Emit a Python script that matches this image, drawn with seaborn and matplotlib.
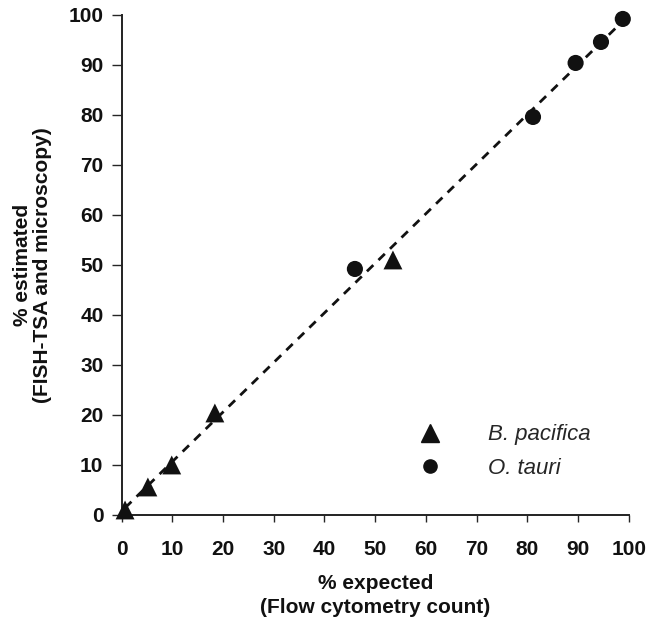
import pandas as pd
import seaborn as sns
import matplotlib.pyplot as plt
from matplotlib.lines import Line2D

# values
bp_expected = [0.7, 5.2, 9.9, 18.4, 53.5]
bp_estimated = [1.0, 5.6, 10.0, 20.4, 51.0]
ot_expected = [46.0, 81.1, 89.5, 94.5, 98.8]
ot_estimated = [49.2, 79.6, 90.4, 94.6, 99.2]
ticks = list(range(0, 101, 10))

df = pd.DataFrame({
    "expected": bp_expected + ot_expected,
    "estimated": bp_estimated + ot_estimated,
    "species": ["B. pacifica"] * len(bp_expected) + ["O. tauri"] * len(ot_expected),
})

sns.set_style("ticks")
plt.rcParams['font.family'] = ['Liberation Sans', 'DejaVu Sans']

fig = plt.figure(figsize=(6.48, 6.23), dpi=100)
ax = fig.add_axes([0.1875, 0.1734, 0.783, 0.8026])

# dashed trend line through all points
sns.regplot(data=df, x="expected", y="estimated", ax=ax, scatter=False, ci=None,
            truncate=True, line_kws=dict(color="#111111", ls=(0, (3.2, 2.6)), lw=2.0))

sns.scatterplot(data=df[df.species == "B. pacifica"], x="expected", y="estimated",
                marker="^", s=185, color="#111111", edgecolor="none",
                ax=ax, zorder=3, legend=False)
sns.scatterplot(data=df[df.species == "O. tauri"], x="expected", y="estimated",
                marker="o", s=135, color="#111111", edgecolor="none",
                ax=ax, zorder=3, legend=False)
for coll in ax.collections:
    coll.set_clip_on(False)

ax.set_xlim(0, 100)
ax.set_ylim(0, 100)
ax.set_xticks(ticks)
ax.set_yticks(ticks)
ax.tick_params(axis="y", direction="out", length=7, width=1, labelsize=15, pad=6)
ax.tick_params(axis="x", direction="out", length=5, width=1, labelsize=15, pad=13)
for lab in ax.get_xticklabels() + ax.get_yticklabels():
    lab.set_fontweight("bold")
    lab.set_color("#111111")
sns.despine(ax=ax)
for sp in ax.spines.values():
    sp.set_linewidth(1.4)
    sp.set_color("#222222")

ax.set_xlabel("% expected\n(Flow cytometry count)", fontsize=15, fontweight="bold",
              labelpad=11, linespacing=1.35, color="#111111")
ax.set_ylabel("% estimated\n(FISH-TSA and microscopy)", fontsize=15, fontweight="bold",
              labelpad=12, linespacing=1.05, color="#111111")

handles = [
    Line2D([], [], marker="^", ls="none", color="#111111", markersize=13.5),
    Line2D([], [], marker="o", ls="none", color="#111111", markersize=9.5),
]
ax.legend(handles, ["B. pacifica", "O. tauri"], loc="center left",
          bbox_to_anchor=(0.587, 0.127), frameon=False, borderpad=0,
          borderaxespad=0, handlelength=1.0, handletextpad=2.1,
          labelspacing=0.55, prop=dict(style="italic", size=16))

fig.savefig("out.png", dpi=100)
